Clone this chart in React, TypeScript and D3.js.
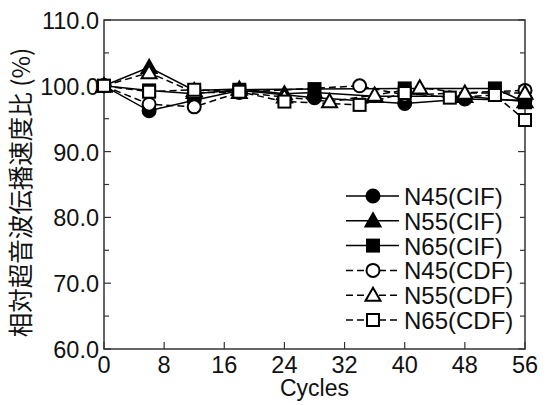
import React from 'react'
import * as d3 from 'd3'

// values
const n45CifCycles = [0, 6, 12, 18, 28, 40, 48, 56]
const n45CifValues = [100, 96.2, 97.8, 99.3, 98.2, 97.3, 98.0, 97.8]
const n55CifCycles = [0, 6, 12, 18, 24, 28, 36, 48, 56]
const n55CifValues = [100, 102.8, 99.3, 99.5, 98.8, 99.0, 98.4, 98.4, 97.6]
const n65CifCycles = [0, 6, 12, 18, 28, 40, 52, 56]
const n65CifValues = [100, 99.3, 98.8, 99.4, 99.5, 99.6, 99.6, 97.5]
const n45CdfCycles = [0, 6, 12, 18, 34, 40, 56]
const n45CdfValues = [100, 97.2, 96.8, 99.0, 100.0, 98.6, 99.3]
const n55CdfCycles = [0, 6, 12, 18, 24, 30, 36, 42, 48, 56]
const n55CdfValues = [100, 102.0, 99.0, 99.0, 98.3, 97.6, 98.6, 99.7, 98.9, 98.9]
const n65CdfCycles = [0, 6, 12, 18, 24, 34, 40, 46, 52, 56]
const n65CdfValues = [100, 99.1, 99.4, 99.1, 97.6, 97.1, 98.9, 98.2, 98.6, 94.8]

const seriesNames = ['N45(CIF)', 'N55(CIF)', 'N65(CIF)', 'N45(CDF)', 'N55(CDF)', 'N65(CDF)']
const seriesCycles = [n45CifCycles, n55CifCycles, n65CifCycles, n45CdfCycles, n55CdfCycles, n65CdfCycles]
const seriesValues = [n45CifValues, n55CifValues, n65CifValues, n45CdfValues, n55CdfValues, n65CdfValues]
const seriesShapes = ['circle', 'triangle', 'square', 'circle', 'triangle', 'square']
const seriesFilled = [true, true, true, false, false, false]

const xTicks = [0, 8, 16, 24, 32, 40, 48, 56]
const yTicks = [60, 70, 80, 90, 100, 110]
const yMinorTicks = [65, 75, 85, 95, 105]

const width = 548
const height = 405
const margin = {left: 104, right: 23, top: 20, bottom: 56}
const font = '"Liberation Sans", Arial, sans-serif'
const axisColor = '#333'

const Marker = ({shape, filled, x, y}: {shape: string, filled: boolean, x: number, y: number}) => {
  const fill = filled ? '#000' : '#fff'
  if (shape === 'circle') {
    return <circle cx={x} cy={y} r={6.5} fill={fill} stroke="#000" strokeWidth={2}/>
  }
  if (shape === 'triangle') {
    const s = 7.5
    const pts = `${x},${y - s} ${x - s},${y + s * 0.75} ${x + s},${y + s * 0.75}`
    return <polygon points={pts} fill={fill} stroke="#000" strokeWidth={2}/>
  }
  return <rect x={x - 6} y={y - 6} width={12} height={12} fill={fill} stroke="#000" strokeWidth={2}/>
}

const App = () => {
  const x = d3.scaleLinear().domain([0, 56]).range([margin.left, width - margin.right])
  const y = d3.scaleLinear().domain([60, 110]).range([height - margin.bottom, margin.top])
  const x0 = x.range()[0], x1 = x.range()[1]
  const y0 = y.range()[0], y1 = y.range()[1]

  const line = d3.line<[number, number]>()
    .x(d => x(d[0]))
    .y(d => y(d[1]))

  const legendX = 346
  const legendY0 = 196
  const legendStep = 24.8

  return (
    <svg width={width} height={height} style={{position: 'absolute', left: 0, top: 0, background: '#fff'}}>
      {/* frame */}
      <rect x={x0} y={y1} width={x1 - x0} height={y0 - y1} fill="none" stroke={axisColor} strokeWidth={1.5}/>
      {yTicks.map(t => (
        <g key={'y' + t}>
          <line x1={x0} x2={x0 + 7} y1={y(t)} y2={y(t)} stroke={axisColor} strokeWidth={1.2}/>
          <line x1={x1} x2={x1 - 7} y1={y(t)} y2={y(t)} stroke={axisColor} strokeWidth={1.2}/>
          <text x={x0 - 5} y={y(t) + 9} textAnchor="end" fontFamily={font} fontSize={23.5} fill="#111">{t.toFixed(1)}</text>
        </g>
      ))}
      {yMinorTicks.map(t => (
        <g key={'ym' + t}>
          <line x1={x0} x2={x0 + 5} y1={y(t)} y2={y(t)} stroke={axisColor} strokeWidth={1.2}/>
          <line x1={x1} x2={x1 - 5} y1={y(t)} y2={y(t)} stroke={axisColor} strokeWidth={1.2}/>
        </g>
      ))}
      {xTicks.map(t => (
        <g key={'x' + t}>
          <line x1={x(t)} x2={x(t)} y1={y0} y2={y0 - 7} stroke={axisColor} strokeWidth={1.2}/>
          <text x={x(t)} y={y0 + 24} textAnchor="middle" fontFamily={font} fontSize={23.5} fill="#111">{t}</text>
        </g>
      ))}
      <text x={(x0 + x1) / 2} y={height - 9} textAnchor="middle" fontFamily={font} fontSize={23} fill="#111">Cycles</text>
      <text
        transform={`translate(30, ${(y0 + y1) / 2 + 8}) rotate(-90)`}
        textAnchor="middle"
        fontFamily={'"Noto Sans CJK JP", ' + font}
        fontSize={24.5}
        fill="#111"
      >相対超音波伝播速度比 (%)</text>

      {/* series lines */}
      {seriesNames.map((name, i) => {
        const pts = seriesCycles[i].map((c, j) => [c, seriesValues[i][j]] as [number, number])
        return (
          <path
            key={'l' + name}
            d={line(pts) || ''}
            fill="none"
            stroke="#000"
            strokeWidth={1.5}
            strokeDasharray={seriesFilled[i] ? undefined : '7,4'}
          />
        )
      })}
      {/* markers */}
      {seriesNames.map((name, i) => (
        <g key={'m' + name}>
          {seriesCycles[i].map((c, j) => (
            <Marker key={j} shape={seriesShapes[i]} filled={seriesFilled[i]} x={x(c)} y={y(seriesValues[i][j])}/>
          ))}
        </g>
      ))}

      {/* legend */}
      {seriesNames.map((name, i) => {
        const ly = legendY0 + i * legendStep
        return (
          <g key={'lg' + name}>
            <rect x={legendX - 4} y={ly - 12} width={178} height={legendStep} fill="#fff"/>
            <line x1={legendX} x2={legendX + 53} y1={ly} y2={ly} stroke="#000" strokeWidth={1.5}
              strokeDasharray={seriesFilled[i] ? undefined : '7,4'}/>
            <Marker shape={seriesShapes[i]} filled={seriesFilled[i]} x={legendX + 27} y={ly}/>
            <text x={legendX + 58} y={ly + 9} fontFamily={font} fontSize={24} fill="#111">{name}</text>
          </g>
        )
      })}
    </svg>
  )
}

export default App
